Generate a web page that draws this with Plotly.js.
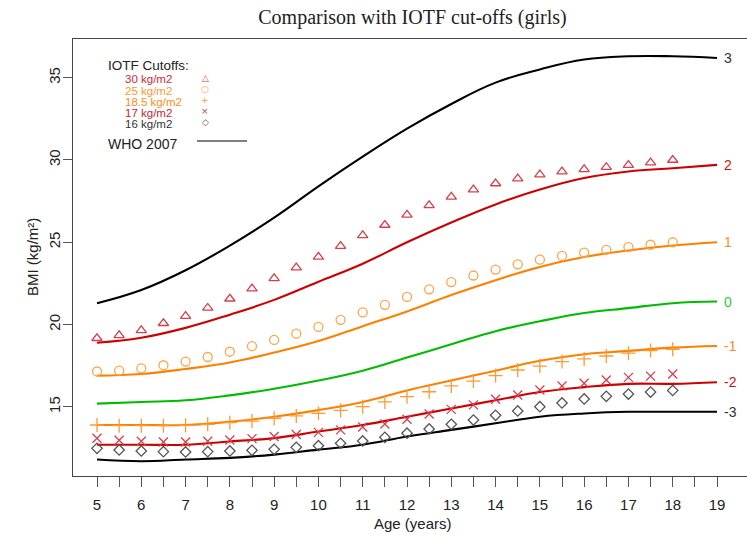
<!DOCTYPE html>
<html>
<head>
<meta charset="utf-8">
<script src="https://cdn.plot.ly/plotly-3.0.1.min.js"></script>
<style>
html, body { margin: 0; padding: 0; overflow: hidden; background: #fff; }
#chart { width: 752px; height: 547px; }
</style>
</head>
<body>
<div id="chart"></div>
<script>
// ---- Data ----
const whoAges = [5, 6, 7, 8, 9, 10, 11, 12, 13, 14, 15, 16, 17, 18, 19];
const whoM3 = [11.8, 11.7, 11.8, 11.9, 12.1, 12.4, 12.7, 13.2, 13.6, 14.0, 14.4, 14.6, 14.7, 14.7, 14.7];
const whoM2 = [12.7, 12.7, 12.7, 12.9, 13.1, 13.5, 13.9, 14.4, 14.9, 15.4, 15.9, 16.2, 16.4, 16.4, 16.5];
const whoM1 = [13.9, 13.9, 13.9, 14.1, 14.4, 14.8, 15.3, 16.0, 16.6, 17.2, 17.8, 18.2, 18.4, 18.6, 18.7];
const who0  = [15.2, 15.3, 15.4, 15.7, 16.1, 16.6, 17.2, 18.0, 18.8, 19.6, 20.2, 20.7, 21.0, 21.3, 21.4];
const whoP1 = [16.9, 17.0, 17.3, 17.7, 18.3, 19.0, 19.9, 20.8, 21.8, 22.7, 23.5, 24.1, 24.5, 24.8, 25.0];
const whoP2 = [18.9, 19.2, 19.8, 20.6, 21.5, 22.6, 23.7, 25.0, 26.2, 27.3, 28.2, 28.9, 29.3, 29.5, 29.7];
const whoP3 = [21.3, 22.1, 23.3, 24.8, 26.5, 28.4, 30.2, 31.9, 33.4, 34.7, 35.5, 36.1, 36.3, 36.3, 36.2];
const whoLabels = ["3", "2", "1", "0", "-1", "-2", "-3"];

const iotfAges = [5, 5.5, 6, 6.5, 7, 7.5, 8, 8.5, 9, 9.5, 10, 10.5, 11, 11.5, 12, 12.5, 13, 13.5, 14, 14.5, 15, 15.5, 16, 16.5, 17, 17.5, 18];
const iotf30 = [19.17, 19.34, 19.65, 20.08, 20.51, 21.01, 21.57, 22.18, 22.81, 23.46, 24.11, 24.77, 25.42, 26.05, 26.67, 27.24, 27.76, 28.20, 28.57, 28.87, 29.11, 29.29, 29.43, 29.56, 29.69, 29.84, 30.00];
const iotf25 = [17.15, 17.20, 17.34, 17.53, 17.75, 18.03, 18.35, 18.69, 19.07, 19.45, 19.86, 20.29, 20.74, 21.20, 21.68, 22.14, 22.58, 22.98, 23.34, 23.66, 23.94, 24.17, 24.37, 24.54, 24.70, 24.85, 25.00];
const iotf185 = [13.90, 13.86, 13.86, 13.86, 13.88, 13.94, 14.04, 14.14, 14.31, 14.45, 14.61, 14.79, 15.01, 15.30, 15.62, 15.92, 16.27, 16.57, 16.90, 17.24, 17.48, 17.75, 17.91, 18.09, 18.26, 18.42, 18.50];
const iotf17 = [13.09, 12.97, 12.91, 12.87, 12.87, 12.91, 12.99, 13.07, 13.20, 13.32, 13.45, 13.60, 13.78, 13.96, 14.25, 14.57, 14.85, 15.12, 15.46, 15.72, 16.03, 16.27, 16.43, 16.63, 16.79, 16.87, 17.00];
const iotf16 = [12.48, 12.38, 12.32, 12.28, 12.26, 12.28, 12.32, 12.36, 12.42, 12.54, 12.64, 12.79, 12.93, 13.15, 13.40, 13.66, 13.94, 14.20, 14.49, 14.75, 15.01, 15.24, 15.48, 15.64, 15.78, 15.90, 16.00];
const iotfLabels = ["30 kg/m2", "25 kg/m2", "18.5 kg/m2", "17 kg/m2", "16 kg/m2"];

const xTickVals = [5, 5.5, 6, 6.5, 7, 7.5, 8, 8.5, 9, 9.5, 10, 10.5, 11, 11.5, 12, 12.5, 13, 13.5, 14, 14.5, 15, 15.5, 16, 16.5, 17, 17.5, 18, 18.5, 19];
const xTickText = ["5", "", "6", "", "7", "", "8", "", "9", "", "10", "", "11", "", "12", "", "13", "", "14", "", "15", "", "16", "", "17", "", "18", "", "19"];
const yTickVals = [15, 20, 25, 30, 35];

// ---- Styles ----
const BLACK = "#000000", RED = "#cc0000", ORANGE = "#ff8000", GREEN = "#00bb00";
const whoSeries = [whoP3, whoP2, whoP1, who0, whoM1, whoM2, whoM3];
const whoColors = [BLACK, RED, ORANGE, GREEN, ORANGE, RED, BLACK];
const labelColors = ["#333333", "#cc1111", "#ff8c1a", "#33cc33", "#ff8c1a", "#cc1111", "#333333"];

const iotfSeries = [iotf30, iotf25, iotf185, iotf17, iotf16];
const iotfSymbols = ["triangle-up-open", "circle-open", "cross-thin-open", "x-thin-open", "diamond-open"];
const iotfMarkerColors = ["#d6404c", "#ffa54a", "#ff9a33", "#d6404c", "#555555"];
const iotfSizes = [9, 9, 10, 9, 8];
const iotfTextColors = ["#cc2936", "#ff9933", "#ff8c1a", "#cc2233", "#333333"];
const iotfGlyphs = ["\u25B3", "\u25CB", "+", "\u00D7", "\u25C7"];

const traces = [];
whoSeries.forEach((s, i) => {
  traces.push({
    x: whoAges, y: s, type: "scatter", mode: "lines",
    line: { color: whoColors[i], width: 2.1, shape: "spline", smoothing: 1.2 },
    hoverinfo: "skip", showlegend: false
  });
});
iotfSeries.forEach((s, i) => {
  traces.push({
    x: iotfAges, y: s, type: "scatter", mode: "markers",
    marker: { symbol: iotfSymbols[i], size: iotfSizes[i], color: iotfMarkerColors[i], line: { width: 1.3, color: iotfMarkerColors[i] } },
    hoverinfo: "skip", showlegend: false
  });
});

const annotations = [];
// right-hand z-score labels
whoSeries.forEach((s, i) => {
  annotations.push({
    x: whoAges[whoAges.length - 1], y: s[s.length - 1], xref: "x", yref: "y",
    text: whoLabels[i], showarrow: false, xanchor: "left", yanchor: "middle", xshift: 5,
    font: { family: "Liberation Sans, Arial, sans-serif", size: 14, color: labelColors[i] }
  });
});
// legend block (paper coordinates, pixel offsets relative to plot area)
const L = 73, T = 39, W = 679, H = 437;
const px = v => (v - L) / W;
const py = v => 1 - (v - T) / H;
annotations.push({
  x: px(106), y: py(65), xref: "paper", yref: "paper", text: "IOTF Cutoffs:", showarrow: false,
  xanchor: "left", yanchor: "middle", font: { family: "Liberation Sans, Arial, sans-serif", size: 13.5, color: "#222" }
});
const entryY = [79, 90.5, 102, 113, 124];
const glyphY = [77.5, 88.5, 100, 111.5, 122];
iotfLabels.forEach((t, i) => {
  annotations.push({
    x: px(123), y: py(entryY[i]), xref: "paper", yref: "paper", text: t, showarrow: false,
    xanchor: "left", yanchor: "middle", font: { family: "Liberation Sans, Arial, sans-serif", size: 11.5, color: iotfTextColors[i] }
  });
  annotations.push({
    x: px(205), y: py(glyphY[i]), xref: "paper", yref: "paper", text: iotfGlyphs[i], showarrow: false,
    xanchor: "center", yanchor: "middle", font: { family: "DejaVu Sans, sans-serif", size: 9, color: iotfMarkerColors[i] }
  });
});
annotations.push({
  x: px(106), y: py(144), xref: "paper", yref: "paper", text: "WHO 2007", showarrow: false,
  xanchor: "left", yanchor: "middle", font: { family: "Liberation Sans, Arial, sans-serif", size: 14, color: "#222" }
});
// y-axis title as annotation
annotations.push({
  x: px(32), y: py(257), xref: "paper", yref: "paper", text: "BMI (kg/m\u00B2)", showarrow: false,
  textangle: -90, xanchor: "center", yanchor: "middle", font: { family: "Liberation Sans, Arial, sans-serif", size: 15, color: "#222" }
});
// x-axis title
annotations.push({
  x: 0.5, y: py(523), xref: "paper", yref: "paper", text: "Age (years)", showarrow: false,
  xanchor: "center", yanchor: "middle", font: { family: "Liberation Sans, Arial, sans-serif", size: 15, color: "#222" }
});

const shapes = [
  { type: "line", xref: "paper", yref: "paper", x0: px(197), x1: px(247), y0: py(141), y1: py(141), line: { color: "#000", width: 1 } }
];

const layout = {
  width: 752, height: 547,
  margin: { l: L, r: 0, t: T, b: 547 - T - H },
  paper_bgcolor: "#ffffff", plot_bgcolor: "#ffffff",
  showlegend: false,
  title: {
    text: "Comparison with IOTF cut-offs (girls)",
    font: { family: "Liberation Serif, Times New Roman, serif", size: 20, color: "#222" },
    xref: "paper", x: 0.5, xanchor: "center", yref: "container", y: 1 - 17 / 547, yanchor: "middle"
  },
  xaxis: {
    range: [4.458, 19.79], showgrid: false, zeroline: false,
    showline: true, mirror: true, linecolor: "#444", linewidth: 1,
    tickmode: "array", tickvals: xTickVals, ticktext: xTickText,
    ticks: "outside", ticklen: 10, tickcolor: "#555", tickwidth: 1,
    ticklabelstandoff: 5,
    tickfont: { family: "Liberation Sans, Arial, sans-serif", size: 15, color: "#222" }
  },
  yaxis: {
    range: [10.80, 37.35], showgrid: false, zeroline: false,
    showline: true, mirror: true, linecolor: "#444", linewidth: 1,
    tickmode: "array", tickvals: yTickVals, ticktext: yTickVals.map(String),
    ticks: "outside", ticklen: 9, tickcolor: "#555", tickwidth: 1, tickangle: -90,
    ticklabelstandoff: -3,
    tickfont: { family: "Liberation Sans, Arial, sans-serif", size: 15, color: "#222" }
  },
  annotations: annotations,
  shapes: shapes
};

Plotly.newPlot("chart", traces, layout, { staticPlot: true, displayModeBar: false });
</script>
</body>
</html>
